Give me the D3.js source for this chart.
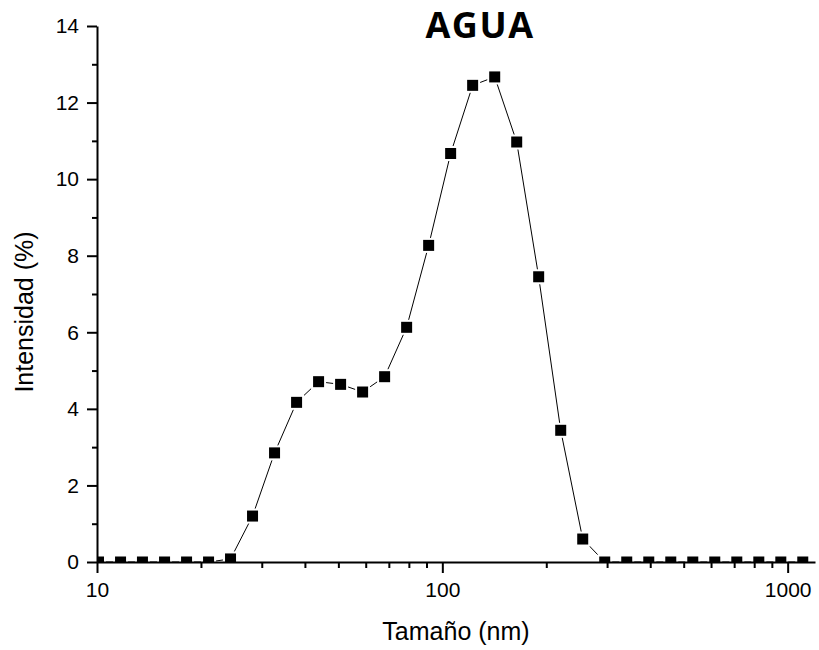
<!DOCTYPE html>
<meta charset="utf-8">
<style>
  body { margin: 0; background: #fff; }
  .axis path, .axis line { stroke: #000; stroke-width: 2px; }
  .axis text { font-family: "Liberation Sans", Arial, sans-serif; font-size: 21px; fill: #000; }
  .label { font-family: "Liberation Sans", Arial, sans-serif; font-size: 25px; fill: #000; }
  .title { font-family: "Open Sans", sans-serif; font-weight: 700; font-size: 36px; letter-spacing: 1.5px; fill: #000; }
</style>
<svg width="819" height="650"></svg>
<script src="https://d3js.org/d3.v7.min.js"></script>
<script>
// size classes (nm) and intensity (%)
var sizes = [10.1, 11.7, 13.54, 15.69, 18.17, 21.04, 24.36, 28.21, 32.67, 37.84, 43.82,
             50.75, 58.77, 68.06, 78.82, 91.28, 105.7, 122.4, 141.8, 164.2, 190.1, 220.2,
             255, 295.3, 342, 396.1, 458.7, 531.2, 615.1, 712.4, 825, 955.4, 1106];
var intensity = [0, 0, 0, 0, 0, 0, 0.08, 1.2, 2.85, 4.17, 4.71,
                 4.64, 4.44, 4.84, 6.13, 8.27, 10.67, 12.45, 12.67, 10.97, 7.45, 3.44,
                 0.6, 0, 0, 0, 0, 0, 0, 0, 0, 0, 0];
var xMajor = [10, 100, 1000];
var xMinor = [20, 30, 40, 50, 60, 70, 80, 90, 200, 300, 400, 500, 600, 700, 800, 900];
var yMajor = [0, 2, 4, 6, 8, 10, 12, 14];
var yMinor = [1, 3, 5, 7, 9, 11, 13];

var margin = {left: 97, top: 26, right: 4, bottom: 88};
var width = 819 - margin.left - margin.right;
var height = 650 - margin.top - margin.bottom;

var svg = d3.select("svg");
var g = svg.append("g").attr("transform", "translate(" + margin.left + "," + margin.top + ")");

var x = d3.scaleLog().domain([10, 1200]).range([0, width]);
var y = d3.scaleLinear().domain([0, 14]).range([height, 0]);

var data = sizes.map(function(s, i) { return {x: s, y: intensity[i]}; });

g.append("clipPath").attr("id", "clip")
  .append("rect").attr("x", 0).attr("y", -10).attr("width", width + 10).attr("height", height + 10);

var plot = g.append("g").attr("clip-path", "url(#clip)");

plot.append("path")
  .datum(data)
  .attr("fill", "none")
  .attr("stroke", "#000")
  .attr("stroke-width", 1)
  .attr("d", d3.line().x(function(d) { return x(d.x); }).y(function(d) { return y(d.y); }));

// white halo gives the small gap between line and marker
plot.selectAll("rect.halo")
  .data(data)
  .enter().append("rect")
  .attr("class", "halo")
  .attr("x", function(d) { return x(d.x) - 7.5; })
  .attr("y", function(d) { return y(d.y) - 7.5; })
  .attr("width", 15).attr("height", 15)
  .attr("fill", "#fff");

plot.selectAll("rect.mark")
  .data(data)
  .enter().append("rect")
  .attr("class", "mark")
  .attr("x", function(d) { return x(d.x) - 5.5; })
  .attr("y", function(d) { return y(d.y) - 5.5; })
  .attr("width", 11).attr("height", 11)
  .attr("fill", "#000");

// axes
g.append("g").attr("class", "axis")
  .attr("transform", "translate(0," + height + ")")
  .call(d3.axisBottom(x).tickValues(xMinor).tickSize(6).tickFormat(""))
  .select(".domain").remove();
g.append("g").attr("class", "axis")
  .attr("transform", "translate(0," + height + ")")
  .call(d3.axisBottom(x).tickValues(xMajor).tickSize(11).tickSizeOuter(0).tickPadding(9).tickFormat(d3.format("d")));

g.append("g").attr("class", "axis")
  .call(d3.axisLeft(y).tickValues(yMinor).tickSize(5).tickFormat(""))
  .select(".domain").remove();
g.append("g").attr("class", "axis")
  .call(d3.axisLeft(y).tickValues(yMajor).tickSize(10).tickSizeOuter(0).tickPadding(8));

// labels
svg.append("text").attr("class", "title")
  .attr("x", 480).attr("y", 38)
  .attr("text-anchor", "middle")
  .text("AGUA");

svg.append("text").attr("class", "label")
  .attr("x", 456).attr("y", 640)
  .attr("text-anchor", "middle")
  .text("Tamaño (nm)");

svg.append("text").attr("class", "label")
  .attr("transform", "translate(33,312) rotate(-90)")
  .attr("text-anchor", "middle")
  .text("Intensidad (%)");
</script>
